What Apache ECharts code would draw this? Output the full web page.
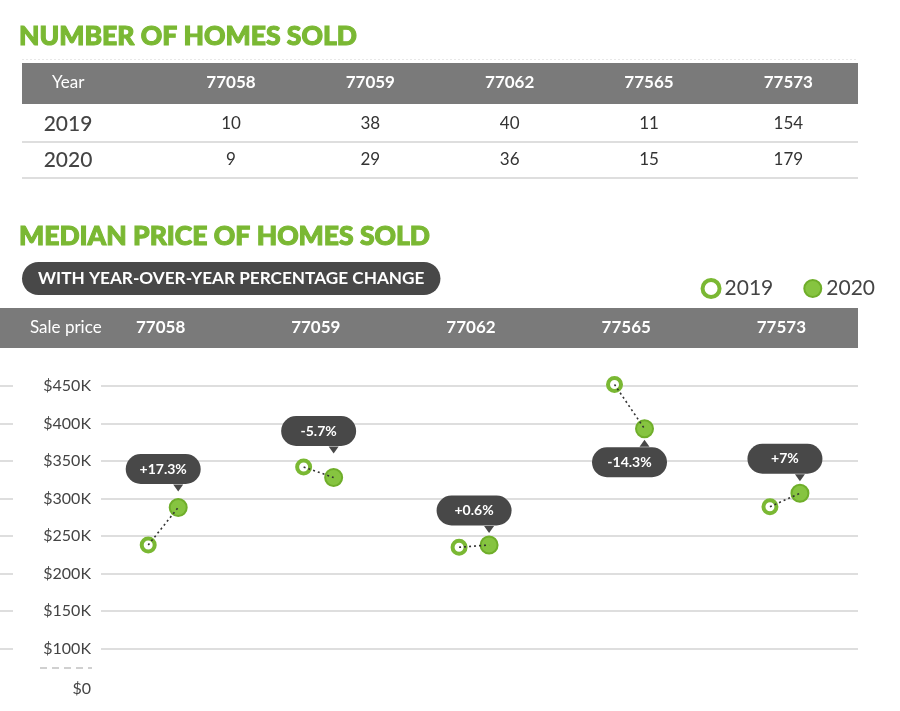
<!DOCTYPE html>
<html><head><meta charset="utf-8">
<script src="https://cdn.jsdelivr.net/npm/echarts@6/dist/echarts.min.js"></script>
<style>html,body{margin:0;padding:0;background:#fff}#c{width:900px;height:711px}</style>
</head><body><div id="c"></div>
<script>
// ---- data ----
const zips = ['77058', '77059', '77062', '77565', '77573'];
const years = ['2019', '2020'];
const sold2019 = [10, 38, 40, 11, 154];
const sold2020 = [9, 29, 36, 15, 179];
const price2019 = [238000, 342000, 235000, 452000, 289000];
const price2020 = [288000, 328000, 238000, 393000, 307000];
const changeLabels = ['+17.3%', '-5.7%', '+0.6%', '-14.3%', '+7%'];
const yTickLabels = ['$0', '$100K', '$150K', '$200K', '$250K', '$300K', '$350K', '$400K', '$450K'];

// ---- layout / style ----
const GREEN = '#7ab833';
const GREEN_FILL = '#86c440';
const GREEN_EDGE = '#6fae2a';
const DARK = '#484848';
const HEADER = '#7a7a7a';
const FONT = 'Lato';
const OFF = 0.0965; // half-gap between the two years inside a zip column (axis units)
const calloutPlace = [
  { pos: 'top', dist: 14 },
  { pos: 'top', dist: 22 },
  { pos: 'top', dist: 10 },
  { pos: 'bottom', dist: 9 },
  { pos: 'top', dist: 10 }
];
const R2020 = 8.5;

const chart = echarts.init(document.getElementById('c'), null, { renderer: 'canvas' });

const cellData = [];
zips.forEach((z, i) => {
  cellData.push([z, years[0], sold2019[i]]);
  cellData.push([z, years[1], sold2020[i]]);
});

const titleStyle = { color: GREEN, fontSize: 26.5, fontWeight: 900, fontFamily: FONT,
  textBorderColor: GREEN, textBorderWidth: 1.1 };

const option = {
  animation: false,
  backgroundColor: '#fff',
  textStyle: { fontFamily: FONT },
  title: [
    { text: 'NUMBER OF HOMES SOLD', left: 19, top: 23, padding: 0, textStyle: titleStyle },
    { text: 'MEDIAN PRICE OF HOMES SOLD', left: 19, top: 223, padding: 0, textStyle: titleStyle },
    { text: 'WITH YEAR-OVER-YEAR PERCENTAGE CHANGE', left: 22, top: 262,
      padding: [8, 16, 8, 16], backgroundColor: DARK, borderRadius: 17,
      textStyle: { color: '#fff', fontSize: 17.2, fontWeight: 700, fontFamily: FONT } }
  ],
  legend: {
    right: 20, top: 273, itemWidth: 17, itemHeight: 17, itemGap: 30,
    textStyle: { fontSize: 21, color: '#444', fontFamily: FONT },
    data: [
      { name: '2019', icon: 'circle', itemStyle: { color: '#fff', borderColor: GREEN, borderWidth: 4, opacity: 1 } },
      { name: '2020', icon: 'circle', itemStyle: { color: GREEN_FILL, borderColor: GREEN_EDGE, borderWidth: 2, opacity: 1 } }
    ]
  },
  graphic: [
    { type: 'line', z: -10, shape: { x1: 22, y1: 59.5, x2: 858, y2: 59.5 },
      style: { stroke: '#e8e8e8', lineWidth: 1, lineDash: [2, 2] } },
    { type: 'rect', z: -10, shape: { x: 22, y: 63, width: 836, height: 41 }, style: { fill: HEADER } },
    { type: 'rect', z: -10, shape: { x: 0, y: 308, width: 858, height: 40 }, style: { fill: HEADER } },
    { type: 'text', x: 30, y: 328, style: { text: 'Sale price', fill: '#fff', font: '17px Lato', textVerticalAlign: 'middle' } },
    { type: 'line', shape: { x1: 40, y1: 668, x2: 92, y2: 668 },
      style: { stroke: '#d0d0d0', lineWidth: 2, lineDash: [7, 5] } }
  ],
  grid: [
    { left: 22, right: 42, top: 106, height: 72 },
    { left: 83, right: 41, top: 348, height: 1 },
    { left: 0, right: 42, top: 386, bottom: 25 }
  ],
  xAxis: [
    { gridIndex: 0, type: 'category', position: 'top', data: ['Year'].concat(zips),
      axisLine: { show: false }, axisTick: { show: false }, splitLine: { show: false },
      axisLabel: { color: '#fff', fontSize: 17, fontWeight: 'bold', margin: 15,
        formatter: v => v === 'Year' ? '{y|Year}' : v,
        rich: { y: { color: '#fff', fontSize: 17, fontWeight: 'normal', padding: [0, 47, 0, 0] } } } },
    { gridIndex: 1, type: 'category', position: 'top', data: zips,
      axisLine: { show: false }, axisTick: { show: false }, splitLine: { show: false },
      axisLabel: { color: '#fff', fontSize: 17, fontWeight: 'bold', margin: 12 } },
    { gridIndex: 2, type: 'value', min: -0.05, max: 5.47, show: false }
  ],
  yAxis: [
    { gridIndex: 0, type: 'category', data: years, inverse: true,
      axisLine: { show: false }, axisTick: { show: false },
      splitLine: { show: true, showMinLine: false, lineStyle: { color: '#dedede', width: 2 } },
      axisLabel: { inside: true, margin: 46, align: 'center', fontSize: 21, color: '#444', fontWeight: 500 } },
    { gridIndex: 1, type: 'category', data: ['h'], show: false },
    { gridIndex: 2, type: 'value', min: 50000, max: 450000, interval: 50000,
      axisLine: { show: false }, axisTick: { show: false },
      splitLine: { show: true, showMinLine: false, lineStyle: { color: '#dedede', width: 2 } },
      axisLabel: { inside: true, margin: 101, align: 'right', width: 78, padding: [3, 10, 3, 0],
        backgroundColor: '#fff', fontSize: 16, color: '#444',
        formatter: (v, idx) => idx === 0 ? '{z|' + yTickLabels[idx] + '}' : yTickLabels[idx],
        rich: { z: { fontSize: 16, color: '#444', padding: [6, 0, 0, 0] } } } }
  ],
  series: [
    { name: 'cells', type: 'scatter', xAxisIndex: 0, yAxisIndex: 0, silent: true,
      symbolSize: 1, itemStyle: { color: 'rgba(0,0,0,0)', opacity: 1 },
      data: cellData,
      label: { show: true, position: 'inside', formatter: p => String(p.value[2]),
        color: '#333', fontSize: 17 } },
    { name: 'connect', type: 'lines', coordinateSystem: 'cartesian2d', xAxisIndex: 2, yAxisIndex: 2,
      silent: true, z: 5, symbol: 'none', clip: false,
      lineStyle: { color: '#333', width: 1.6, type: [2, 3], opacity: 1 },
      data: zips.map((z, i) => ({ coords: [[i + 1 - OFF, price2019[i]], [i + 1 + OFF, price2020[i]]] })) },
    { name: 'pointer', type: 'scatter', xAxisIndex: 2, yAxisIndex: 2, silent: true, z: 2, clip: false,
      symbol: 'triangle', symbolSize: [10, 7], itemStyle: { color: DARK, opacity: 1 },
      data: price2020.map((v, i) => {
        const c = calloutPlace[i];
        const top = c.pos === 'top';
        return { value: [i + 1 + OFF, v], symbolRotate: top ? 180 : 0,
          symbolOffset: [0, top ? -(R2020 + c.dist) + 3 : (R2020 + c.dist) - 3] };
      }) },
    { name: '2019', type: 'scatter', xAxisIndex: 2, yAxisIndex: 2, z: 3, clip: false,
      symbolSize: 13, itemStyle: { color: '#fff', borderColor: GREEN, borderWidth: 4, opacity: 1 },
      data: price2019.map((v, i) => [i + 1 - OFF, v]) },
    { name: '2020', type: 'scatter', xAxisIndex: 2, yAxisIndex: 2, z: 3, clip: false,
      symbolSize: R2020 * 2, itemStyle: { color: GREEN_FILL, borderColor: GREEN_EDGE, borderWidth: 2, opacity: 1 },
      label: { show: true, offset: [-15, 0], formatter: p => changeLabels[p.dataIndex],
        color: '#fff', fontSize: 14, fontWeight: 700, backgroundColor: DARK, borderRadius: 15,
        width: 75, lineHeight: 14, padding: [8, 0, 8, 0], align: 'center' },
      data: price2020.map((v, i) => ({ value: [i + 1 + OFF, v],
        label: { position: calloutPlace[i].pos, distance: calloutPlace[i].dist } })) }
  ]
};
chart.setOption(option);
</script>
</body></html>
